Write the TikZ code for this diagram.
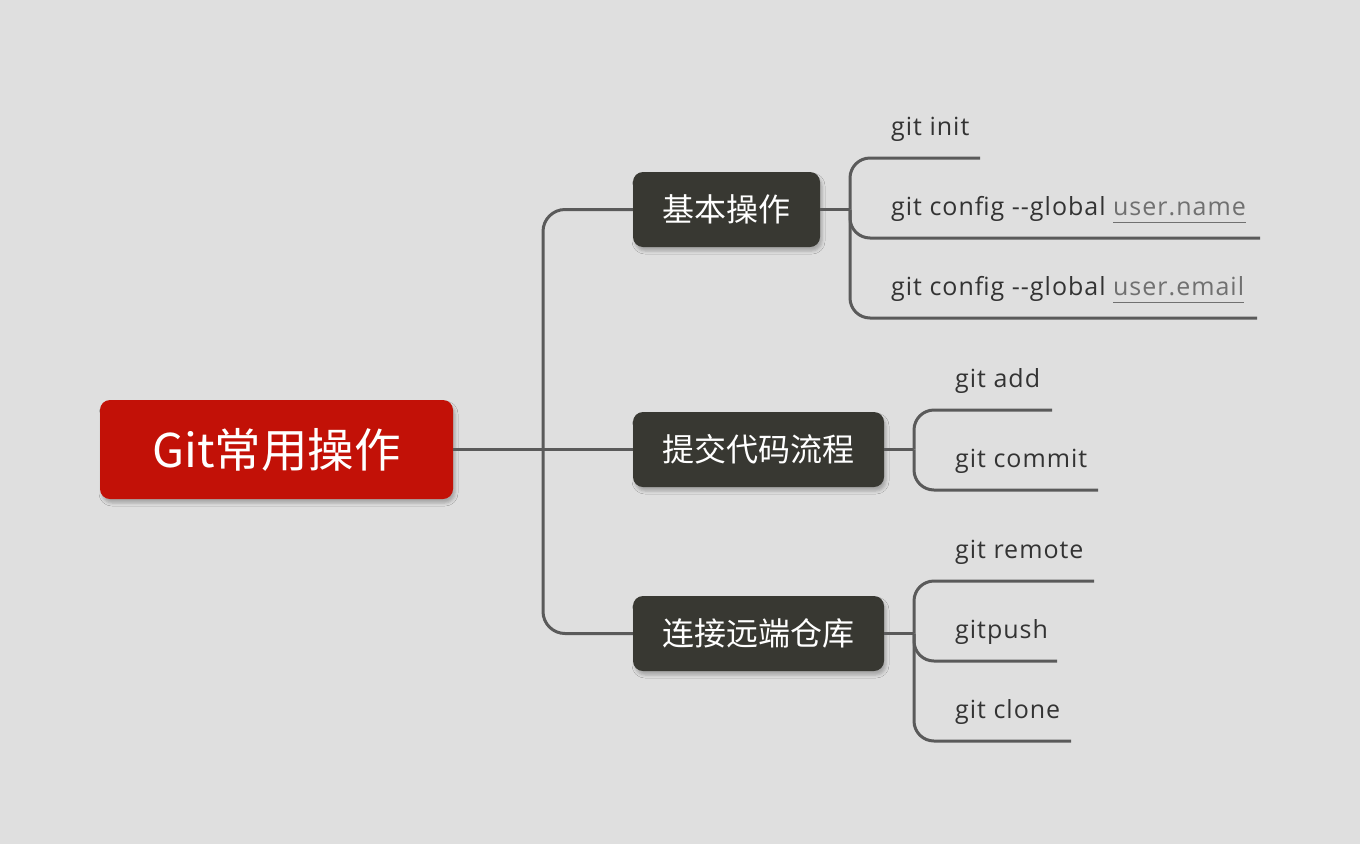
\documentclass[tikz,border=0pt]{standalone}
\usepackage{fontspec}
\setmainfont{Open Sans}[LetterSpace=4]
\newfontfamily\cjk{Noto Sans CJK SC}
\usetikzlibrary{shadows.blur}
\definecolor{bg}{HTML}{DFDFDF}
\definecolor{rootred}{HTML}{C21107}
\definecolor{boxdark}{HTML}{383832}
\definecolor{linegray}{HTML}{5A5A5A}
\definecolor{leaftext}{HTML}{333333}
\definecolor{ulgray}{HTML}{707070}
\newcommand\gul[1]{\textcolor{ulgray}{\setbox0\hbox{#1}\rlap{\rule[-8pt]{\wd0}{1.5pt}}\box0}}
\tikzset{
  conn/.style={draw=linegray, line width=3pt},
  boxshadow/.style={blur shadow={shadow xshift=2pt, shadow yshift=-4pt, shadow opacity=25, shadow blur radius=3pt}},
  rootbox/.style={fill=rootred, rounded corners=10pt, minimum width=353pt, minimum height=99pt, inner sep=0pt,
    text=white, font=\cjk\fontsize{46.5}{50}\selectfont, boxshadow},
  catbox/.style={fill=boxdark, rounded corners=10pt, minimum height=75pt, inner sep=0pt,
    text=white, font=\cjk\fontsize{32}{36}\selectfont, boxshadow},
  leaf/.style={anchor=base west, inner sep=0pt, text=leaftext, font=\fontsize{25}{28}\selectfont},
}
\begin{document}
\begin{tikzpicture}[x=1pt,y=-1pt]
\fill[bg] (0,0) rectangle (1360,844);
\useasboundingbox (0,0) rectangle (1360,844);

\node[rootbox] (root) at (276.5,449.5) {Git常用操作};
\node[catbox, minimum width=187pt] (b1) at (726.5,209.5) {基本操作};
\node[catbox, minimum width=251pt] (b2) at (758.5,449.5) {提交代码流程};
\node[catbox, minimum width=251pt] (b3) at (758.5,633.5) {连接远端仓库};

% leaves
\node[leaf] (l11) at (891,135) {git init};
\node[leaf] (l12) at (891,215) {git config -{}-global \gul{user.name}};
\node[leaf] (l13) at (891,295) {git config -{}-global \gul{user.email}};
\node[leaf] (l21) at (955,387) {git add};
\node[leaf] (l22) at (955,467) {git commit};
\node[leaf] (l31) at (955,558) {git remote};
\node[leaf] (l32) at (955,638) {gitpush};
\node[leaf] (l33) at (955,718) {git clone};

% leaf line ends
\coordinate (e11) at (980,158);
\coordinate (e12) at (1260,238);
\coordinate (e13) at (1257,318);
\coordinate (e21) at (1052,410);
\coordinate (e22) at (1098,490);
\coordinate (e31) at (1094,581);
\coordinate (e32) at (1057,661);
\coordinate (e33) at (1071,741);

% root to categories
\coordinate (t) at (543,449.5);
\draw[conn] (root.east) -- (b2.west);
\draw[conn, rounded corners=22pt] (t) |- (b1.west);
\draw[conn, rounded corners=22pt] (t) |- (b3.west);

% category 1
\coordinate (j1) at (850,209.5);
\draw[conn] (b1.east) -- (j1);
\draw[conn, rounded corners=20pt] (j1) |- (e11);
\draw[conn, rounded corners=20pt] (j1) |- (e12);
\draw[conn, rounded corners=20pt] (j1) |- (e13);

% category 2
\coordinate (j2) at (914,449.5);
\draw[conn] (b2.east) -- (j2);
\draw[conn, rounded corners=20pt] (j2) |- (e21);
\draw[conn, rounded corners=20pt] (j2) |- (e22);

% category 3
\coordinate (j3) at (914,633.5);
\draw[conn] (b3.east) -- (j3);
\draw[conn, rounded corners=20pt] (j3) |- (e31);
\draw[conn, rounded corners=20pt] (j3) |- (e32);
\draw[conn, rounded corners=20pt] (j3) |- (e33);
\end{tikzpicture}
\end{document}
